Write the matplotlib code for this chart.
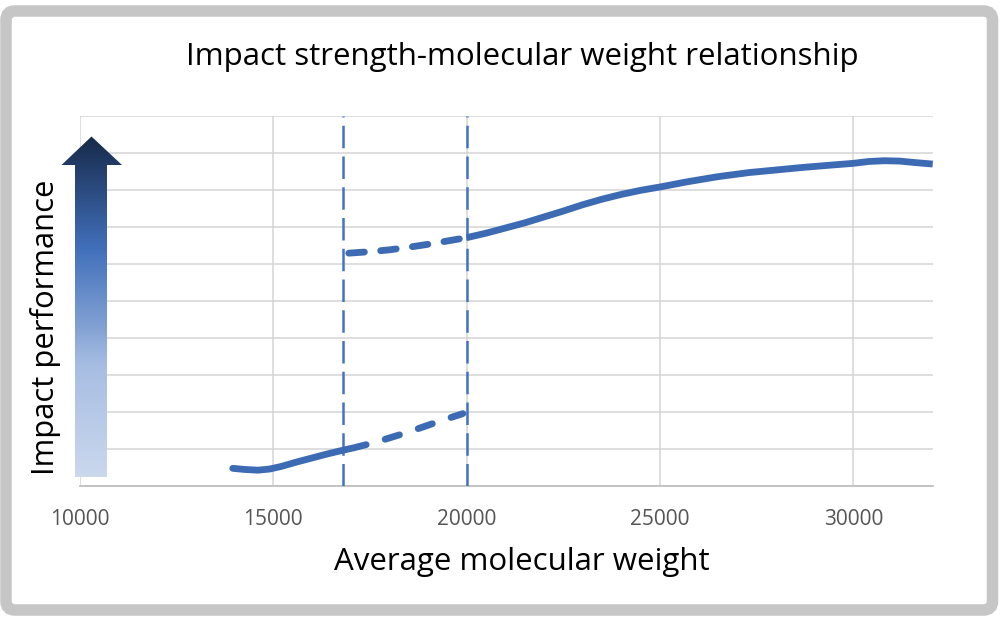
import matplotlib
matplotlib.use("Agg")
import matplotlib.pyplot as plt
import numpy as np
from matplotlib.colors import LinearSegmentedColormap
from matplotlib.patches import FancyBboxPatch, Polygon

plt.rcParams['font.family'] = ['Open Sans', 'DejaVu Sans']

# --- data ---
title = 'Impact strength-molecular weight relationship'
x_label = 'Average molecular weight'
y_label = 'Impact performance'

x_ticks = [10000, 15000, 20000, 25000, 30000]
transition_mw = [16800, 20000]   # dashed vertical markers

# lower branch: solid, then dashed
low_solid_x = [13950, 14250, 14600, 14900, 15200, 15600, 16000, 16400, 16800, 17100, 17400]
low_solid_y = [0.47, 0.44, 0.42, 0.45, 0.52, 0.64, 0.75, 0.86, 0.96, 1.03, 1.11]
low_dash_x = [17400, 17900, 18400, 18900, 19400, 19900]
low_dash_y = [1.11, 1.26, 1.42, 1.60, 1.78, 1.95]

# upper branch: dashed, then solid
up_dash_x = [16950, 17500, 18000, 18500, 19000, 19500, 20000]
up_dash_y = [6.29, 6.33, 6.38, 6.45, 6.53, 6.62, 6.71]
up_solid_x = [20000, 20500, 21000, 21500, 22000, 22500, 23000, 23500, 24000, 24500,
              25000, 25700, 26500, 27300, 28000, 28700, 29400, 30000, 30400, 30800,
              31200, 31600, 32050]
up_solid_y = [6.71, 6.83, 6.97, 7.11, 7.27, 7.43, 7.60, 7.75, 7.88, 7.99,
              8.08, 8.22, 8.36, 8.47, 8.54, 8.61, 8.67, 8.72, 8.77, 8.79,
              8.78, 8.74, 8.70]

LINE = '#3d6bb3'
VLINE = '#4472c4'

fig = plt.figure(figsize=(10, 6.2), dpi=100)
fig.patch.set_facecolor('white')

ax = fig.add_axes([0.080, 0.2166, 0.8527, 0.5963])
ax.set_xlim(10000, 32050)
ax.set_ylim(0, 10)
ax.set_xticks(x_ticks)
ax.set_xticklabels([str(t) for t in x_ticks])
ax.set_yticks(np.arange(0, 11, 1))
ax.set_yticklabels([])
ax.tick_params(axis='both', length=0)
ax.tick_params(axis='x', pad=17, labelsize=15, labelcolor='#555555')
ax.grid(True, color='#d4d4d4', linewidth=1.1)
ax.set_axisbelow(True)
for s in ['top', 'right', 'left']:
    ax.spines[s].set_visible(False)
ax.spines['bottom'].set_color('#c0c0c0')
ax.spines['bottom'].set_linewidth(1.3)

for xv in transition_mw:
    ax.axvline(xv, color=VLINE, linewidth=1.8, dashes=(9, 3.3), zorder=3)

lw = 4.9
ax.plot(low_solid_x, low_solid_y, color=LINE, linewidth=lw,
        solid_capstyle='round', solid_joinstyle='round', zorder=4)
ax.plot(low_dash_x, low_dash_y, color=LINE, linewidth=lw,
        linestyle=(2.2, (2.2, 2.9)), dash_capstyle='round', zorder=4)
ax.plot(up_dash_x, up_dash_y, color=LINE, linewidth=lw,
        linestyle=(0, (2.3, 2.4)), dash_capstyle='round', zorder=4)
ax.plot(up_solid_x, up_solid_y, color=LINE, linewidth=lw,
        solid_capstyle='butt', solid_joinstyle='round', zorder=4)

# --- overlay in figure pixels: frame, gradient arrow, texts ---
ov = fig.add_axes([0, 0, 1, 1], zorder=5)
ov.set_xlim(0, 1000)
ov.set_ylim(620, 0)
ov.axis('off')
ov.patch.set_alpha(0)

frame = FancyBboxPatch((6, 11), 986.5, 599, boxstyle='round,pad=0,rounding_size=9',
                       facecolor='none', edgecolor='#c6c6c6', linewidth=8.3)
ov.add_patch(frame)

arrow_pts = [(91.5, 136.5), (122, 165), (107, 165), (107, 477),
             (75, 477), (75, 165), (61.5, 165)]
arrow = Polygon(arrow_pts, closed=True, facecolor='none', edgecolor='none')
ov.add_patch(arrow)
cmap = LinearSegmentedColormap.from_list(
    'imp', [(0, '#cbd8ee'), (0.33, '#a6bde2'), (0.45, '#7f9fd2'),
            (0.67, '#4170bb'), (1, '#172a4a')])
grad = np.linspace(0, 1, 256).reshape(-1, 1)
img = ov.imshow(grad, cmap=cmap, origin='lower', aspect='auto',
                extent=(61, 122.5, 477, 136), interpolation='bilinear')
img.set_clip_path(arrow)
ov.set_xlim(0, 1000)
ov.set_ylim(620, 0)

ov.text(522, 57, title, fontsize=22.5, ha='center', va='center', color='black')
ov.text(522, 562, x_label, fontsize=22.5, ha='center', va='center', color='black')
ov.text(46, 327, y_label, fontsize=22.3, ha='center', va='center',
        rotation=90, color='black')

fig.savefig('out.png', dpi=100)
